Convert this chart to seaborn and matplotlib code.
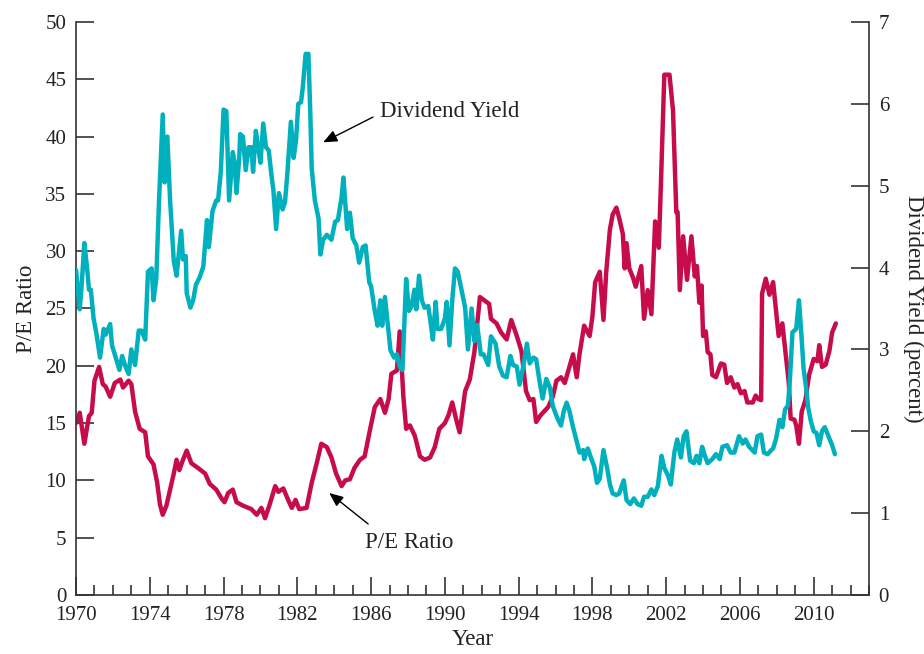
"""P/E ratio and dividend yield, 1970-2011"""

import matplotlib.pyplot as plt
import seaborn as sns  # type: ignore
from matplotlib.ticker import MultipleLocator

# P/E ratio (left axis)
pe_years = [
    1970.0, 1970.2, 1970.45, 1970.7, 1970.85, 1971.0, 1971.25, 1971.45, 1971.6, 1971.85,
    1972.1, 1972.4, 1972.55, 1972.85, 1973.0, 1973.2, 1973.45, 1973.75, 1973.9, 1974.2,
    1974.4, 1974.55, 1974.7, 1974.9, 1975.1, 1975.3, 1975.45, 1975.6, 1975.8, 1976.0,
    1976.25, 1976.6, 1977.0, 1977.25, 1977.6, 1977.9, 1978.05, 1978.25, 1978.5, 1978.7,
    1979.05, 1979.5, 1979.8, 1980.05, 1980.25, 1980.5, 1980.8, 1980.97, 1981.24, 1981.5,
    1981.7, 1981.9, 1982.1, 1982.5, 1982.78, 1983.05, 1983.3, 1983.6, 1983.85, 1984.1,
    1984.4, 1984.6, 1984.85, 1985.1, 1985.4, 1985.65, 1985.95, 1986.2, 1986.5, 1986.75,
    1986.95, 1987.1, 1987.4, 1987.55, 1987.75, 1987.9, 1988.1, 1988.37, 1988.65, 1988.9,
    1989.2, 1989.45, 1989.7, 1990.0, 1990.2, 1990.4, 1990.6, 1990.8, 1991.1, 1991.35,
    1991.6, 1991.9, 1992.15, 1992.4, 1992.5, 1992.8, 1993.05, 1993.35, 1993.6, 1993.9,
    1994.15, 1994.4, 1994.6, 1994.8, 1994.95, 1995.2, 1995.6, 1995.85, 1996.05, 1996.3,
    1996.5, 1996.75, 1996.95, 1997.15, 1997.3, 1997.55, 1997.85, 1998.0, 1998.15, 1998.4,
    1998.6, 1998.75, 1998.95, 1999.1, 1999.3, 1999.45, 1999.65, 1999.75, 1999.85, 2000.0,
    2000.2, 2000.35, 2000.65, 2000.8, 2001.0, 2001.2, 2001.4, 2001.6, 2001.72, 2001.9,
    2002.18, 2002.37, 2002.55, 2002.62, 2002.74, 2002.92, 2003.13, 2003.37, 2003.55, 2003.67,
    2003.8, 2003.92, 2004.0, 2004.15, 2004.25, 2004.4, 2004.5, 2004.7, 2004.97, 2005.15,
    2005.3, 2005.5, 2005.7, 2005.87, 2006.05, 2006.25, 2006.4, 2006.7, 2006.85, 2007.0,
    2007.15, 2007.2, 2007.4, 2007.6, 2007.8, 2007.9, 2008.1, 2008.3, 2008.5, 2008.65,
    2008.75, 2008.95, 2009.05, 2009.2, 2009.35, 2009.55, 2009.75, 2010.0, 2010.2, 2010.3,
    2010.45, 2010.65, 2010.85, 2011.0, 2011.2,
]
pe_values = [
    15.0, 15.9, 13.2, 15.6, 15.9, 18.7, 19.9, 18.4, 18.2, 17.3,
    18.5, 18.8, 18.1, 18.7, 18.4, 16.0, 14.5, 14.2, 12.1, 11.4,
    9.8, 7.9, 7.0, 7.8, 9.2, 10.6, 11.8, 10.9, 11.8, 12.6,
    11.5, 11.1, 10.6, 9.7, 9.2, 8.4, 8.1, 8.9, 9.2, 8.1,
    7.8, 7.5, 7.0, 7.6, 6.7, 7.9, 9.5, 9.0, 9.3, 8.3,
    7.6, 8.3, 7.5, 7.6, 9.8, 11.5, 13.2, 12.9, 12.0, 10.6,
    9.5, 10.0, 10.1, 11.1, 11.8, 12.1, 14.5, 16.4, 17.1, 15.9,
    17.1, 19.3, 19.6, 23.0, 17.3, 14.5, 14.8, 13.9, 12.1, 11.8,
    12.0, 12.9, 14.5, 15.0, 15.7, 16.8, 15.4, 14.2, 17.8, 18.8,
    21.2, 26.0, 25.7, 25.4, 24.1, 23.7, 22.9, 22.3, 24.0, 22.6,
    21.3, 17.8, 17.0, 17.1, 15.1, 15.7, 16.4, 17.3, 18.7, 19.0,
    18.5, 19.9, 21.0, 19.0, 21.0, 23.5, 22.6, 24.3, 27.3, 28.2,
    24.0, 28.2, 31.9, 33.2, 33.8, 32.9, 31.5, 28.5, 30.7, 28.5,
    27.7, 26.9, 28.7, 24.1, 26.6, 24.5, 32.6, 30.3, 36.1, 45.4,
    45.4, 42.3, 33.4, 33.4, 26.6, 31.3, 27.5, 31.3, 27.8, 28.7,
    25.5, 27.0, 22.6, 23.0, 21.2, 21.0, 19.2, 19.0, 20.2, 20.1,
    18.5, 19.0, 18.1, 18.4, 17.6, 17.8, 16.8, 16.8, 17.4, 17.1,
    17.0, 26.3, 27.6, 26.2, 27.3, 25.7, 22.6, 23.7, 20.7, 18.5,
    15.4, 15.3, 14.8, 13.2, 16.0, 17.0, 19.2, 20.6, 20.4, 21.8,
    19.9, 20.1, 21.3, 22.9, 23.7,
]

# Dividend yield, percent (right axis)
dy_years = [
    1970.0, 1970.2, 1970.3, 1970.45, 1970.6, 1970.7, 1970.8, 1970.95, 1971.1, 1971.3,
    1971.5, 1971.6, 1971.85, 1971.95, 1972.1, 1972.35, 1972.5, 1972.65, 1972.85, 1973.0,
    1973.2, 1973.4, 1973.55, 1973.75, 1973.9, 1974.1, 1974.2, 1974.35, 1974.5, 1974.7,
    1974.8, 1974.95, 1975.1, 1975.3, 1975.45, 1975.7, 1975.8, 1975.95, 1976.0, 1976.2,
    1976.35, 1976.5, 1976.7, 1976.9, 1977.1, 1977.2, 1977.4, 1977.6, 1977.7, 1977.85,
    1978.0, 1978.15, 1978.3, 1978.5, 1978.6, 1978.7, 1978.85, 1978.9, 1979.05, 1979.2,
    1979.35, 1979.5, 1979.6, 1979.75, 1979.9, 1980.0, 1980.15, 1980.3, 1980.45, 1980.6,
    1980.7, 1980.85, 1981.0, 1981.2, 1981.33, 1981.45, 1981.65, 1981.8, 1981.93, 1982.05,
    1982.2, 1982.3, 1982.45, 1982.6, 1982.7, 1982.78, 1982.95, 1983.15, 1983.25, 1983.4,
    1983.6, 1983.85, 1984.05, 1984.2, 1984.4, 1984.5, 1984.7, 1984.85, 1985.0, 1985.2,
    1985.35, 1985.55, 1985.7, 1985.9, 1986.0, 1986.2, 1986.35, 1986.5, 1986.6, 1986.75,
    1986.85, 1987.05, 1987.25, 1987.4, 1987.55, 1987.7, 1987.9, 1988.05, 1988.2, 1988.35,
    1988.45, 1988.6, 1988.75, 1988.9, 1989.1, 1989.25, 1989.35, 1989.5, 1989.6, 1989.8,
    1990.0, 1990.1, 1990.25, 1990.4, 1990.55, 1990.7, 1990.9, 1991.1, 1991.25, 1991.45,
    1991.6, 1991.75, 1991.95, 1992.1, 1992.35, 1992.5, 1992.75, 1992.95, 1993.15, 1993.35,
    1993.55, 1993.7, 1993.9, 1994.05, 1994.25, 1994.45, 1994.6, 1994.8, 1994.95, 1995.15,
    1995.3, 1995.5, 1995.7, 1995.85, 1996.1, 1996.3, 1996.45, 1996.6, 1996.75, 1996.95,
    1997.1, 1997.3, 1997.5, 1997.55, 1997.75, 1997.95, 1998.1, 1998.25, 1998.4, 1998.6,
    1998.8, 1998.95, 1999.1, 1999.3, 1999.45, 1999.7, 1999.85, 2000.05, 2000.25, 2000.45,
    2000.65, 2000.8, 2001.0, 2001.2, 2001.35, 2001.55, 2001.75, 2001.9, 2002.1, 2002.25,
    2002.45, 2002.6, 2002.8, 2002.95, 2003.1, 2003.3, 2003.5, 2003.65, 2003.8, 2003.95,
    2004.1, 2004.25, 2004.5, 2004.7, 2004.9, 2005.05, 2005.3, 2005.5, 2005.7, 2005.95,
    2006.15, 2006.3, 2006.5, 2006.8, 2006.95, 2007.15, 2007.3, 2007.5, 2007.7, 2007.8,
    2007.95, 2008.15, 2008.3, 2008.45, 2008.6, 2008.7, 2008.85, 2009.05, 2009.2, 2009.3,
    2009.45, 2009.6, 2009.7, 2009.85, 2010.0, 2010.15, 2010.3, 2010.45, 2010.6, 2010.8,
    2011.0, 2011.15,
]
dy_values = [
    3.97, 3.49, 3.77, 4.30, 3.99, 3.73, 3.73, 3.38, 3.20, 2.90,
    3.25, 3.18, 3.31, 3.05, 2.94, 2.75, 2.92, 2.81, 2.70, 3.00,
    2.81, 3.23, 3.23, 3.12, 3.95, 3.99, 3.60, 3.86, 4.82, 5.87,
    5.04, 5.60, 4.82, 4.08, 3.90, 4.45, 4.10, 4.14, 3.69, 3.51,
    3.60, 3.79, 3.88, 4.01, 4.58, 4.25, 4.69, 4.82, 4.82, 5.17,
    5.93, 5.91, 4.82, 5.41, 5.28, 4.91, 5.34, 5.63, 5.60, 5.19,
    5.47, 5.47, 5.17, 5.67, 5.43, 5.28, 5.76, 5.47, 5.43, 5.12,
    4.95, 4.47, 4.91, 4.71, 4.80, 5.12, 5.78, 5.34, 5.56, 6.00,
    6.02, 6.21, 6.61, 6.61, 5.91, 5.21, 4.82, 4.60, 4.16, 4.34,
    4.40, 4.34, 4.56, 4.58, 4.86, 5.10, 4.47, 4.67, 4.36, 4.27,
    4.06, 4.25, 4.27, 3.82, 3.77, 3.47, 3.29, 3.60, 3.29, 3.64,
    3.42, 2.99, 2.90, 2.94, 2.79, 2.75, 3.86, 3.47, 3.53, 3.73,
    3.49, 3.90, 3.60, 3.51, 3.53, 3.29, 3.12, 3.58, 3.25, 3.25,
    3.38, 3.58, 3.05, 3.60, 3.99, 3.95, 3.73, 3.51, 3.00, 3.50,
    3.10, 3.30, 2.94, 2.94, 2.81, 3.16, 3.07, 2.79, 2.68, 2.66,
    2.92, 2.81, 2.79, 2.57, 2.79, 3.07, 2.83, 2.90, 2.88, 2.59,
    2.40, 2.64, 2.53, 2.31, 2.16, 2.07, 2.25, 2.35, 2.25, 2.05,
    1.92, 1.74, 1.77, 1.66, 1.79, 1.66, 1.57, 1.37, 1.42, 1.77,
    1.55, 1.35, 1.24, 1.22, 1.24, 1.40, 1.16, 1.11, 1.18, 1.11,
    1.09, 1.20, 1.20, 1.29, 1.22, 1.33, 1.70, 1.55, 1.46, 1.35,
    1.75, 1.90, 1.68, 1.94, 2.00, 1.64, 1.61, 1.70, 1.61, 1.81,
    1.70, 1.61, 1.66, 1.72, 1.66, 1.81, 1.83, 1.74, 1.74, 1.94,
    1.85, 1.90, 1.81, 1.74, 1.94, 1.96, 1.74, 1.72, 1.77, 1.79,
    1.90, 2.14, 2.05, 2.27, 2.31, 2.59, 3.21, 3.25, 3.60, 3.29,
    2.77, 2.51, 2.29, 2.12, 2.00, 1.98, 1.83, 2.00, 2.05, 1.94,
    1.83, 1.72,
]

year_ticks = list(range(1970, 2011, 4))

PE_COLOR = "#C70C4B"
DY_COLOR = "#00B0BD"
TEXT_COLOR = "#222222"
AXIS_COLOR = "#333333"

sns.set_theme(style="ticks")
plt.rcParams["font.family"] = ["Liberation Serif", "DejaVu Serif"]
plt.rcParams["text.color"] = TEXT_COLOR
plt.rcParams["axes.labelcolor"] = TEXT_COLOR
plt.rcParams["xtick.color"] = AXIS_COLOR
plt.rcParams["ytick.color"] = AXIS_COLOR
plt.rcParams["xtick.labelcolor"] = TEXT_COLOR
plt.rcParams["ytick.labelcolor"] = TEXT_COLOR

fig, ax = plt.subplots(figsize=(9.24, 6.54), dpi=100)
fig.subplots_adjust(left=0.0823, right=0.9405, bottom=0.0902, top=0.9664)
ax2 = ax.twinx()

sns.lineplot(
    x=pe_years, y=pe_values, ax=ax, color=PE_COLOR, linewidth=3.2,
    sort=False, estimator=None,
)
sns.lineplot(
    x=dy_years, y=dy_values, ax=ax2, color=DY_COLOR, linewidth=3.2,
    sort=False, estimator=None,
)

ax.set_xlim(1970, 2013)
ax.set_ylim(0, 50)
ax2.set_ylim(0, 7)
ax.set_xticks(year_ticks)
ax.xaxis.set_minor_locator(MultipleLocator(1))
ax.yaxis.set_major_locator(MultipleLocator(5))
ax2.yaxis.set_major_locator(MultipleLocator(1))

for a in (ax, ax2):
    a.spines["top"].set_visible(False)
    for side in ("left", "right", "bottom"):
        a.spines[side].set_color(AXIS_COLOR)
        a.spines[side].set_linewidth(1.2)
    a.grid(False)
ax.spines["right"].set_visible(False)
ax2.spines["left"].set_visible(False)
ax2.spines["bottom"].set_visible(False)

ax.tick_params(axis="x", which="major", direction="in", length=13, width=1.2,
               labelsize=15, pad=8)
ax.tick_params(axis="x", which="minor", direction="in", length=7, width=1.2)
ax.tick_params(axis="y", direction="in", length=13, width=1.2, labelsize=15, pad=7)
ax2.tick_params(axis="y", direction="in", length=13, width=1.2, labelsize=15, pad=7)

ax.set_xlabel("Year", fontsize=16.5, labelpad=3)
ax.set_ylabel("P/E Ratio", fontsize=16.5, labelpad=6)
ax2.set_ylabel("Dividend Yield (percent)", fontsize=16.5, rotation=270,
               va="bottom", labelpad=10)

arrow = dict(arrowstyle="-|>,head_length=0.7,head_width=0.3", color="black",
             lw=1.0, shrinkA=0, shrinkB=0, mutation_scale=12)
ax.annotate("", xy=(1983.4, 39.5), xytext=(1986.1, 41.7), arrowprops=arrow)
ax.text(1986.5, 42.2, "Dividend Yield", fontsize=16.5, ha="left", va="center")
ax.annotate("", xy=(1983.73, 8.9), xytext=(1985.84, 6.2), arrowprops=arrow)
ax.text(1985.66, 4.6, "P/E Ratio", fontsize=16.5, ha="left", va="center")

plt.savefig("out.png", dpi=100)
plt.close()
